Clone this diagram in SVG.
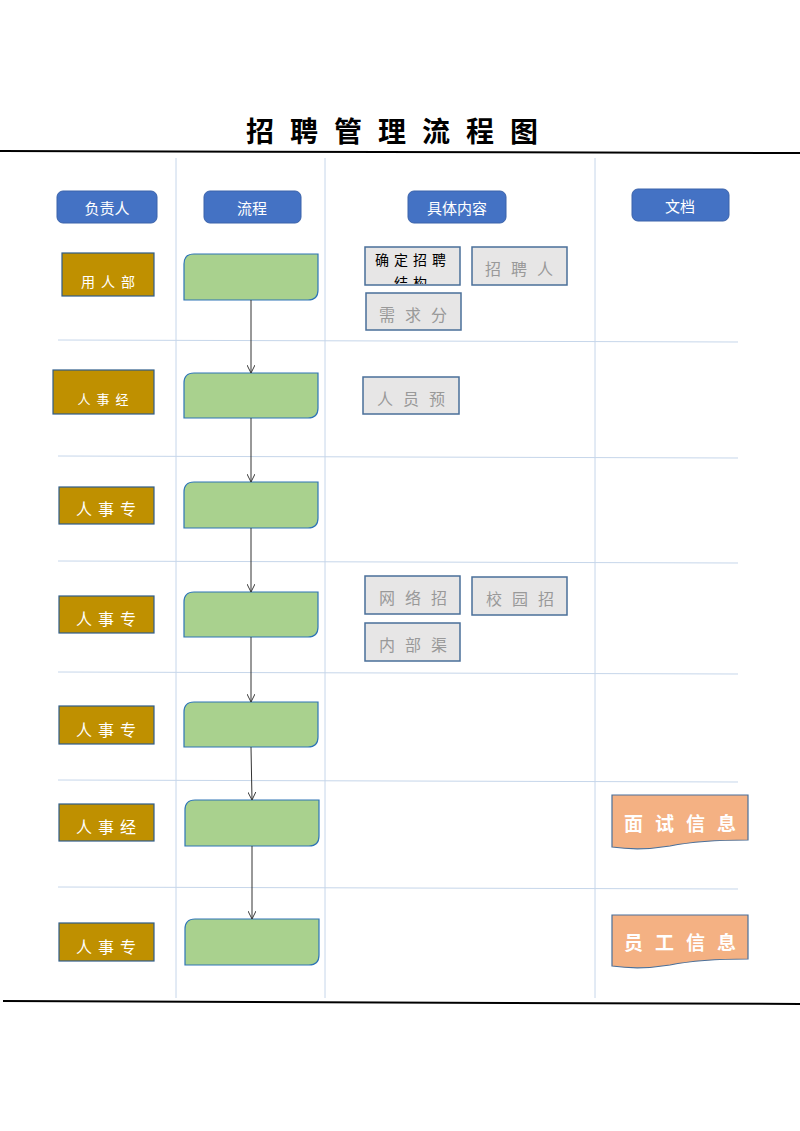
<svg xmlns="http://www.w3.org/2000/svg" width="800" height="1131" viewBox="0 0 800 1131">
<style>
text{font-family:"Noto Sans CJK SC","Liberation Sans",sans-serif;text-anchor:middle;dominant-baseline:central}
.grid{stroke:#c6d6ea;stroke-width:1}
.hdr{fill:#4472c4;stroke:#3a62aa}
.ht{fill:#fff;font-size:15px}
.own{fill:#bf9000;stroke:#2f5d8a;stroke-width:1.2}
.ot{fill:#fff;font-size:14px;letter-spacing:6px}
.proc{fill:#a9d18e;stroke:#2e75b6;stroke-width:1.2}
.cont{fill:#e7e6e6;stroke:#4a6f99;stroke-width:1.5}
.ct{fill:#999;font-size:16px;letter-spacing:10px}
.doc{fill:#f4b183;stroke:#4a6f99;stroke-width:1.2}
.dt{fill:#fff;font-size:19px;font-weight:bold;letter-spacing:12px}
.conn{stroke:#333;stroke-width:1;fill:none;marker-end:url(#ah)}
</style>
<defs>
<marker id="ah" viewBox="0 0 10 10" refX="10" refY="5" markerWidth="8" markerHeight="8" orient="auto"><path d="M0,0 L10,5 L0,10" fill="none" stroke="#333" stroke-width="1.2"/></marker>
<clipPath id="c1"><rect x="365" y="247" width="95" height="37"/></clipPath>
</defs>
<rect width="800" height="1131" fill="#fff"/>
<text x="400" y="130" style="font-size:28px;font-weight:bold;letter-spacing:16px" fill="#000">招聘管理流程图</text>
<line x1="0" y1="151" x2="800" y2="153" stroke="#000" stroke-width="2"/>
<line x1="3" y1="1001" x2="800" y2="1004" stroke="#000" stroke-width="2"/>
<g id="grid">
<line class="grid" x1="176" y1="158" x2="176" y2="998"/>
<line class="grid" x1="325" y1="158" x2="325" y2="998"/>
<line class="grid" x1="595" y1="158" x2="595" y2="998"/>
<line class="grid" x1="58" y1="340" x2="738" y2="342"/>
<line class="grid" x1="58" y1="456" x2="738" y2="458"/>
<line class="grid" x1="58" y1="561" x2="738" y2="563"/>
<line class="grid" x1="58" y1="672" x2="738" y2="674"/>
<line class="grid" x1="58" y1="780" x2="738" y2="782"/>
<line class="grid" x1="58" y1="887" x2="738" y2="889"/>
</g>
<g id="h1"><rect class="hdr" x="57" y="191" width="100" height="32" rx="6"/><text class="ht" x="107" y="207">负责人</text></g>
<g id="h2"><rect class="hdr" x="204" y="191" width="97" height="32" rx="6"/><text class="ht" x="252" y="207">流程</text></g>
<g id="h3"><rect class="hdr" x="408" y="191" width="98" height="32" rx="6"/><text class="ht" x="457" y="207">具体内容</text></g>
<g id="h4"><rect class="hdr" x="632" y="189" width="97" height="32" rx="6"/><text class="ht" x="680" y="205">文档</text></g>
<g id="o1"><rect class="own" x="62" y="253" width="92" height="43"/><text class="ot" x="111" y="281">用人部</text></g>
<g id="o2"><rect class="own" x="53" y="370" width="101" height="44"/><text class="ot" x="106" y="398" style="font-size:13px">人事经</text></g>
<g id="o3"><rect class="own" x="59" y="487" width="95" height="37"/><text class="ot" x="109" y="508" style="font-size:16px">人事专</text></g>
<g id="o4"><rect class="own" x="59" y="596" width="95" height="37"/><text class="ot" x="109" y="618" style="font-size:16px">人事专</text></g>
<g id="o5"><rect class="own" x="59" y="706" width="95" height="38"/><text class="ot" x="109" y="729" style="font-size:16px">人事专</text></g>
<g id="o6"><rect class="own" x="59" y="804" width="95" height="37"/><text class="ot" x="109" y="826" style="font-size:16px">人事经</text></g>
<g id="o7"><rect class="own" x="59" y="923" width="95" height="38"/><text class="ot" x="109" y="946" style="font-size:16px">人事专</text></g>
<g id="p1"><path class="proc" d="M194,254 H318 V290 Q318,300 308,300 H184 V264 Q184,254 194,254 Z"/></g>
<g id="p2"><path class="proc" d="M194,373 H318 V408 Q318,418 308,418 H184 V383 Q184,373 194,373 Z"/></g>
<g id="p3"><path class="proc" d="M194,482 H318 V518 Q318,528 308,528 H184 V492 Q184,482 194,482 Z"/></g>
<g id="p4"><path class="proc" d="M194,592 H318 V627 Q318,637 308,637 H184 V602 Q184,592 194,592 Z"/></g>
<g id="p5"><path class="proc" d="M194,702 H318 V737 Q318,747 308,747 H184 V712 Q184,702 194,702 Z"/></g>
<g id="p6"><path class="proc" d="M195,800 H319 V836 Q319,846 309,846 H185 V810 Q185,800 195,800 Z"/></g>
<g id="p7"><path class="proc" d="M195,919 H319 V955 Q319,965 309,965 H185 V929 Q185,919 195,919 Z"/></g>
<g id="connectors">
<line class="conn" x1="251" y1="300" x2="251" y2="373"/>
<line class="conn" x1="251" y1="418" x2="251" y2="482"/>
<line class="conn" x1="251" y1="528" x2="251" y2="592"/>
<line class="conn" x1="251" y1="637" x2="251" y2="702"/>
<line class="conn" x1="251" y1="747" x2="252" y2="800"/>
<line class="conn" x1="252" y1="846" x2="252" y2="919"/>
</g>
<g id="c_1"><rect class="cont" x="365" y="247" width="95" height="38"/><g clip-path="url(#c1)"><text x="413" y="259" style="font-size:14px;letter-spacing:5px" fill="#000">确定招聘</text><text x="413" y="282" style="font-size:14px;letter-spacing:5px" fill="#000">结构</text></g></g>
<g id="c_2"><rect class="cont" x="472" y="247" width="95" height="38"/><text class="ct" x="524" y="268">招聘人</text></g>
<g id="c_3"><rect class="cont" x="366" y="293" width="95" height="37"/><text class="ct" x="418" y="314">需求分</text></g>
<g id="c_4"><rect class="cont" x="363" y="377" width="96" height="37"/><text class="ct" x="416" y="398">人员预</text></g>
<g id="c_5"><rect class="cont" x="365" y="576" width="95" height="38"/><text class="ct" x="418" y="597">网络招</text></g>
<g id="c_6"><rect class="cont" x="472" y="577" width="95" height="38"/><text class="ct" x="525" y="598">校园招</text></g>
<g id="c_7"><rect class="cont" x="365" y="623" width="95" height="38"/><text class="ct" x="418" y="644">内部渠</text></g>
<g id="d1"><path class="doc" d="M612,795 H748 V840 Q700,840 670,846 Q640,851 612,847 Z"/><text class="dt" x="686" y="822">面试信息</text></g>
<g id="d2"><path class="doc" d="M612,915 H748 V959 Q700,959 670,965 Q640,970 612,966 Z"/><text class="dt" x="686" y="941">员工信息</text></g>
</svg>
